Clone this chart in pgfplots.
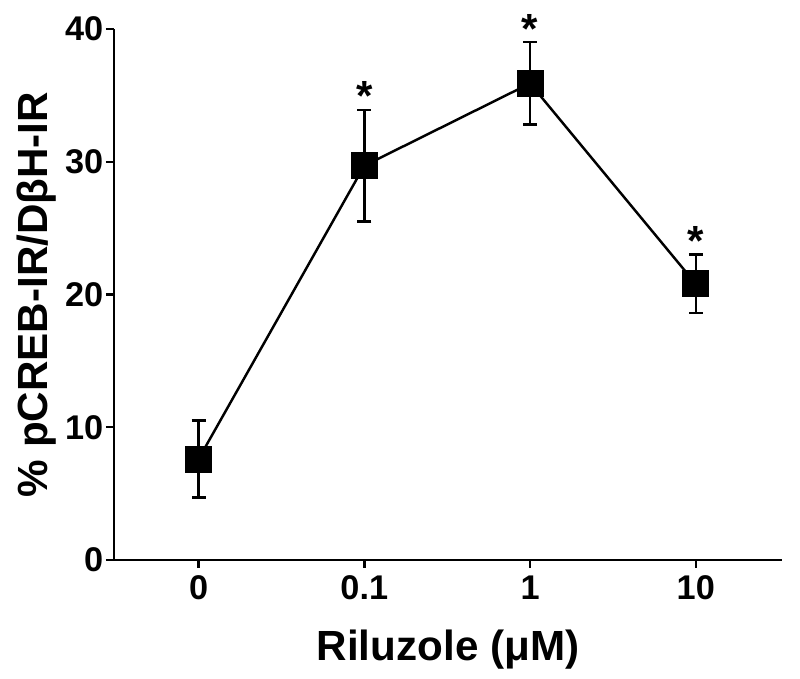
\documentclass[border=0pt]{standalone}
\usepackage{pgfplots}
\pgfplotsset{compat=1.18}
\usepackage{fontspec}
\setmainfont{Liberation Sans}
\begin{document}
\begin{tikzpicture}
\begin{axis}[
    name=main,
    scale only axis,
    width=13.36cm,
    height=10.62cm,
    xmin=-0.51, xmax=3.52,
    ymin=0, ymax=40,
    axis x line=bottom,
    axis y line=left,
    axis line style={-, line width=1.4pt},
    xtick={0,1,2,3},
    xticklabels={0,0.1,1,10},
    ytick={0,10,20,30,40},
    tick align=outside,
    major tick length=0.16cm,
    tick style={line width=1.4pt, black},
    /pgf/number format/assume math mode=true,
    tick label style={font=\bfseries\fontsize{19.5}{22}\selectfont},
    yticklabel style={xshift=2pt},
    xticklabel style={yshift=-1pt},
    xlabel={Riluzole (μM)},
    ylabel={\% pCREB-IR/DβH-IR},
    label style={font=\bfseries\fontsize{24}{28}\selectfont},
    xlabel style={yshift=-10pt},
    ylabel style={yshift=-2pt},
    clip=false,
]
% mean +- SEM
\addplot[black, line width=1.4pt, mark=square*, mark size=7pt,
    error bars/.cd, y dir=both, y explicit,
    error bar style={line width=1.4pt},
    error mark options={rotate=90, mark size=4pt, line width=1.4pt}]
    coordinates {
    (0,7.6) +- (0,2.9)
    (1,29.7) +- (0,4.2)
    (2,35.9) +- (0,3.1)
    (3,20.8) +- (0,2.2)
};
% significance marks
\node[font=\bfseries\fontsize{24}{26}\selectfont, anchor=base, inner sep=0pt, yshift=-0.5pt] at (axis cs:1,33.9) {*};
\node[font=\bfseries\fontsize{24}{26}\selectfont, anchor=base, inner sep=0pt, yshift=-0.5pt] at (axis cs:2,39.0) {*};
\node[font=\bfseries\fontsize{24}{26}\selectfont, anchor=base, inner sep=0pt, yshift=-0.5pt] at (axis cs:3,23.0) {*};
\end{axis}
% page margins around the axis
\pgfresetboundingbox
\path ([shift={(-2.28cm,-2.38cm)}]main.south west) rectangle ([shift={(0.36cm,0.58cm)}]main.north east);
\end{tikzpicture}
\end{document}
